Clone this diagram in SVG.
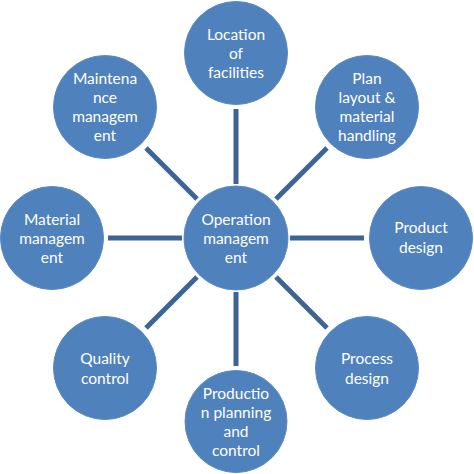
<svg xmlns="http://www.w3.org/2000/svg" width="474" height="474" viewBox="0 0 474 474">
<style>
.n{fill:#4F81BD;stroke:#5B8BC4;stroke-width:1}
.t{font-family:Lato,"Liberation Sans",sans-serif;font-size:15.5px;fill:#FFFFFF;text-anchor:middle}
.c{stroke:#3C6596;stroke-width:5;fill:none}
</style>
<rect width="474" height="474" fill="#FFFFFF"/>
<g id="connectors">
<line class="c" x1="236" y1="109" x2="236" y2="184"/>
<line class="c" x1="146" y1="148" x2="197" y2="199"/>
<line class="c" x1="327" y1="148" x2="276" y2="199"/>
<line class="c" x1="108" y1="238" x2="182" y2="238"/>
<line class="c" x1="290" y1="238" x2="364" y2="238"/>
<line class="c" x1="146" y1="328" x2="197" y2="277"/>
<line class="c" x1="276" y1="277" x2="327" y2="328"/>
<line class="c" x1="236" y1="292" x2="236" y2="366"/>
</g>
<g id="center">
<circle class="n" cx="236" cy="238" r="52"/>
<text class="t" x="236"><tspan x="236" y="225">Operation</tspan><tspan x="236" y="244">managem</tspan><tspan x="236" y="263">ent</tspan></text>
</g>
<g id="location">
<circle class="n" cx="236" cy="53" r="51.5"/>
<text class="t"><tspan x="236" y="40">Location</tspan><tspan x="236" y="59">of</tspan><tspan x="236" y="78">facilities</tspan></text>
</g>
<g id="plan">
<circle class="n" cx="367" cy="107" r="51.5"/>
<text class="t"><tspan x="367" y="84">Plan</tspan><tspan x="367" y="103">layout &amp;</tspan><tspan x="367" y="122">material</tspan><tspan x="367" y="141">handling</tspan></text>
</g>
<g id="product">
<circle class="n" cx="421" cy="238" r="51.5"/>
<text class="t"><tspan x="421" y="233">Product</tspan><tspan x="421" y="253">design</tspan></text>
</g>
<g id="process">
<circle class="n" cx="367" cy="368" r="51.5"/>
<text class="t"><tspan x="367" y="364">Process</tspan><tspan x="367" y="384">design</tspan></text>
</g>
<g id="production">
<circle class="n" cx="236" cy="421.5" r="51"/>
<text class="t"><tspan x="236" y="399">Productio</tspan><tspan x="236" y="418">n planning</tspan><tspan x="236" y="437">and</tspan><tspan x="236" y="456">control</tspan></text>
</g>
<g id="quality">
<circle class="n" cx="105" cy="368" r="51.5"/>
<text class="t"><tspan x="105" y="364">Quality</tspan><tspan x="105" y="384">control</tspan></text>
</g>
<g id="material">
<circle class="n" cx="52" cy="238" r="51.5"/>
<text class="t"><tspan x="52" y="225">Material</tspan><tspan x="52" y="244">managem</tspan><tspan x="52" y="263">ent</tspan></text>
</g>
<g id="maintenance">
<circle class="n" cx="105" cy="107" r="51.5"/>
<text class="t"><tspan x="105" y="84">Maintena</tspan><tspan x="105" y="103">nce</tspan><tspan x="105" y="122">managem</tspan><tspan x="105" y="141">ent</tspan></text>
</g>
</svg>
